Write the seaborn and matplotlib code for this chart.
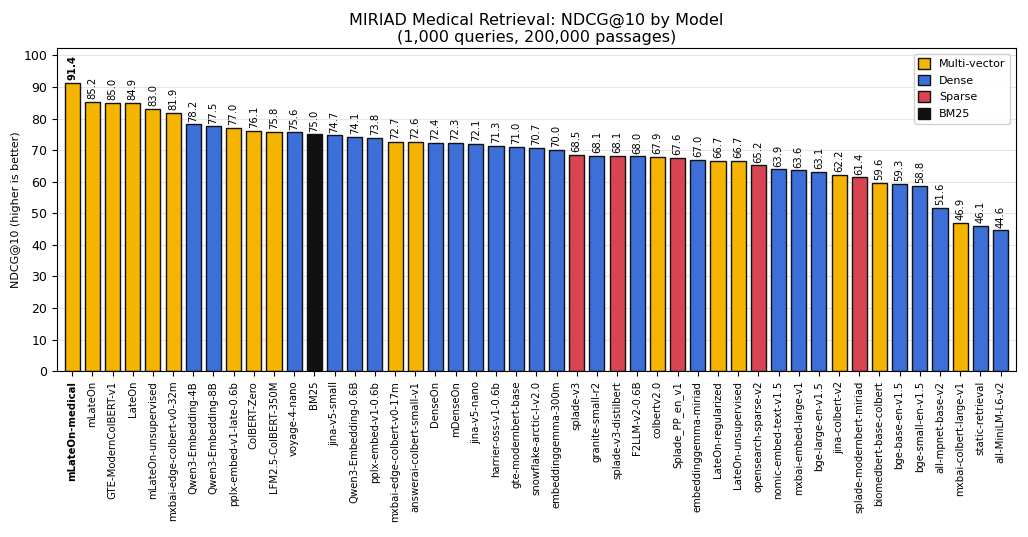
import matplotlib
matplotlib.use("Agg")
import matplotlib.pyplot as plt
import seaborn as sns
import pandas as pd
from matplotlib.patches import Patch

models = [
    "mLateOn-medical", "mLateOn", "GTE-ModernColBERT-v1", "LateOn", "mLateOn-unsupervised",
    "mxbai-edge-colbert-v0-32m", "Qwen3-Embedding-4B", "Qwen3-Embedding-8B", "pplx-embed-v1-late-0.6b",
    "ColBERT-Zero", "LFM2.5-ColBERT-350M", "voyage-4-nano", "BM25", "jina-v5-small",
    "Qwen3-Embedding-0.6B", "pplx-embed-v1-0.6b", "mxbai-edge-colbert-v0-17m", "answerai-colbert-small-v1",
    "DenseOn", "mDenseOn", "jina-v5-nano", "harrier-oss-v1-0.6b", "gte-modernbert-base",
    "snowflake-arctic-l-v2.0", "embeddinggemma-300m", "splade-v3", "granite-small-r2",
    "splade-v3-distilbert", "F2LLM-v2-0.6B", "colbertv2.0", "Splade_PP_en_v1", "embeddinggemma-miriad",
    "LateOn-regularized", "LateOn-unsupervised", "opensearch-sparse-v2", "nomic-embed-text-v1.5",
    "mxbai-embed-large-v1", "bge-large-en-v1.5", "jina-colbert-v2", "splade-modernbert-miriad",
    "biomedbert-base-colbert", "bge-base-en-v1.5", "bge-small-en-v1.5", "all-mpnet-base-v2",
    "mxbai-colbert-large-v1", "static-retrieval", "all-MiniLM-L6-v2",
]
scores = [
    91.4, 85.2, 85.0, 84.9, 83.0, 81.9, 78.2, 77.5, 77.0, 76.1, 75.8, 75.6, 75.0, 74.7,
    74.1, 73.8, 72.7, 72.6, 72.4, 72.3, 72.1, 71.3, 71.0, 70.7, 70.0, 68.5, 68.1, 68.1,
    68.0, 67.9, 67.6, 67.0, 66.7, 66.7, 65.2, 63.9, 63.6, 63.1, 62.2, 61.4, 59.6, 59.3,
    58.8, 51.6, 46.9, 46.1, 44.6,
]
M, D, S, B = "Multi-vector", "Dense", "Sparse", "BM25"
kinds = [
    M, M, M, M, M, M, D, D, M, M, M, D, B, D,
    D, D, M, M, D, D, D, D, D, D, D, S, D, S,
    D, M, S, D, M, M, S, D, D, D, M, S, M, D,
    D, D, M, D, D,
]
kind_order = [M, D, S, B]
palette = {M: "#F4B400", D: "#3C6FD8", S: "#D94452", B: "#111111"}

df = pd.DataFrame({"model": models, "score": scores, "kind": kinds})

fig = plt.figure(figsize=(10.28, 5.37), dpi=100)
ax = fig.add_axes([0.0555, 0.309, 0.9325, 0.6016])

sns.barplot(data=df, x="model", y="score", hue="kind", hue_order=kind_order,
            palette=palette, dodge=False, width=0.75, edgecolor="#111111",
            linewidth=1.0, legend=False, ax=ax, saturation=1)

ax.set_axisbelow(True)
ax.yaxis.grid(True, color="#e6e6e6", linewidth=0.8)
ax.set_xlim(-0.75, len(models) - 0.25)
ax.set_ylim(0, max(scores) * 1.12)
ax.set_yticks(range(0, 101, 10))
ax.tick_params(axis="y", labelsize=9)
ax.set_xticks(range(len(models)))
ax.set_xticklabels(models, rotation=90, fontsize=7.3)
ax.get_xticklabels()[0].set_fontweight("bold")
ax.set_xlabel("")
ax.set_ylabel("NDCG@10 (higher is better)", fontsize=8, labelpad=2)
ax.set_title("MIRIAD Medical Retrieval: NDCG@10 by Model\n(1,000 queries, 200,000 passages)",
             fontsize=11.5, pad=4)

for i, v in enumerate(scores):
    ax.annotate(f"{v:.1f}", (i, v), xytext=(0, 2), textcoords="offset points",
                ha="center", va="bottom", rotation=90, fontsize=7.2,
                fontweight="bold" if i == 0 else "normal")

handles = [Patch(facecolor=palette[k], edgecolor="#111111", label=k) for k in kind_order]
ax.legend(handles=handles, loc="upper right", fontsize=8, handlelength=1.1,
          handleheight=1.1, framealpha=0.9)

fig.savefig("out.png", dpi=100)
